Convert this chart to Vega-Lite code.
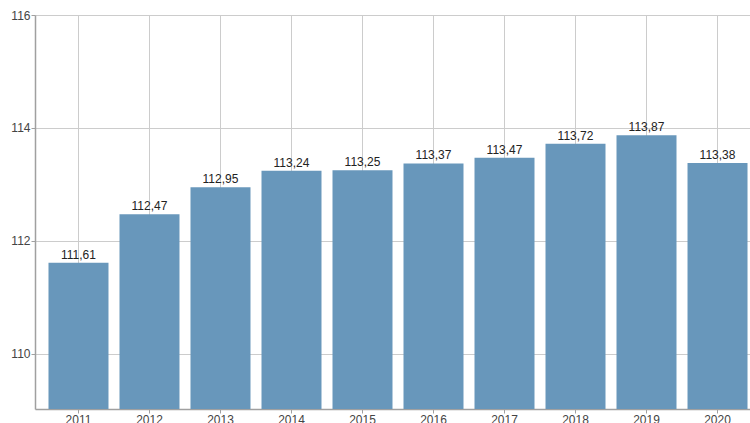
{
  "$schema": "https://vega.github.io/schema/vega-lite/v6.json",
  "width": 726,
  "height": 394,
  "autosize": {"type": "none"},
  "padding": {"left": 35, "top": 15, "right": 0, "bottom": 14},
  "background": "white",
  "config": {
    "view": {"stroke": null},
    "locale": {"number": {"decimal": ",", "thousands": ".", "grouping": [3], "currency": ["", " €"]}},
    "font": "Liberation Sans",
    "axis": {
      "labelFont": "Liberation Sans",
      "labelFontSize": 12,
      "labelColor": "#444444",
      "domainColor": "#a0a0a0",
      "tickColor": "#a0a0a0",
      "gridColor": "#cccccc",
      "tickSize": 4,
      "title": null
    }
  },
  "data": {
    "values": [
      {"year": "2011", "value": 111.61},
      {"year": "2012", "value": 112.47},
      {"year": "2013", "value": 112.95},
      {"year": "2014", "value": 113.24},
      {"year": "2015", "value": 113.25},
      {"year": "2016", "value": 113.37},
      {"year": "2017", "value": 113.47},
      {"year": "2018", "value": 113.72},
      {"year": "2019", "value": 113.87},
      {"year": "2020", "value": 113.38}
    ]
  },
  "encoding": {
    "x": {
      "field": "year",
      "type": "nominal",
      "scale": {"paddingInner": 0.155, "paddingOuter": 0.19},
      "axis": {"grid": true, "labelAngle": 0, "labelPadding": 1, "domainWidth": 1.5}
    }
  },
  "layer": [
    {
      "mark": {"type": "bar", "color": "#6897bb", "clip": true},
      "encoding": {
        "y": {
          "field": "value",
          "type": "quantitative",
          "scale": {"domain": [109.02, 116], "zero": false, "nice": false},
          "axis": {"values": [110, 112, 114, 116], "format": "d", "grid": true, "labelPadding": 1, "domainWidth": 1.5}
        }
      }
    },
    {
      "mark": {"type": "text", "baseline": "bottom", "dy": -1, "fontSize": 12, "color": "#222222", "font": "Liberation Sans"},
      "encoding": {
        "y": {"field": "value", "type": "quantitative"},
        "text": {"field": "value", "type": "quantitative", "format": ".2f"}
      }
    }
  ]
}
